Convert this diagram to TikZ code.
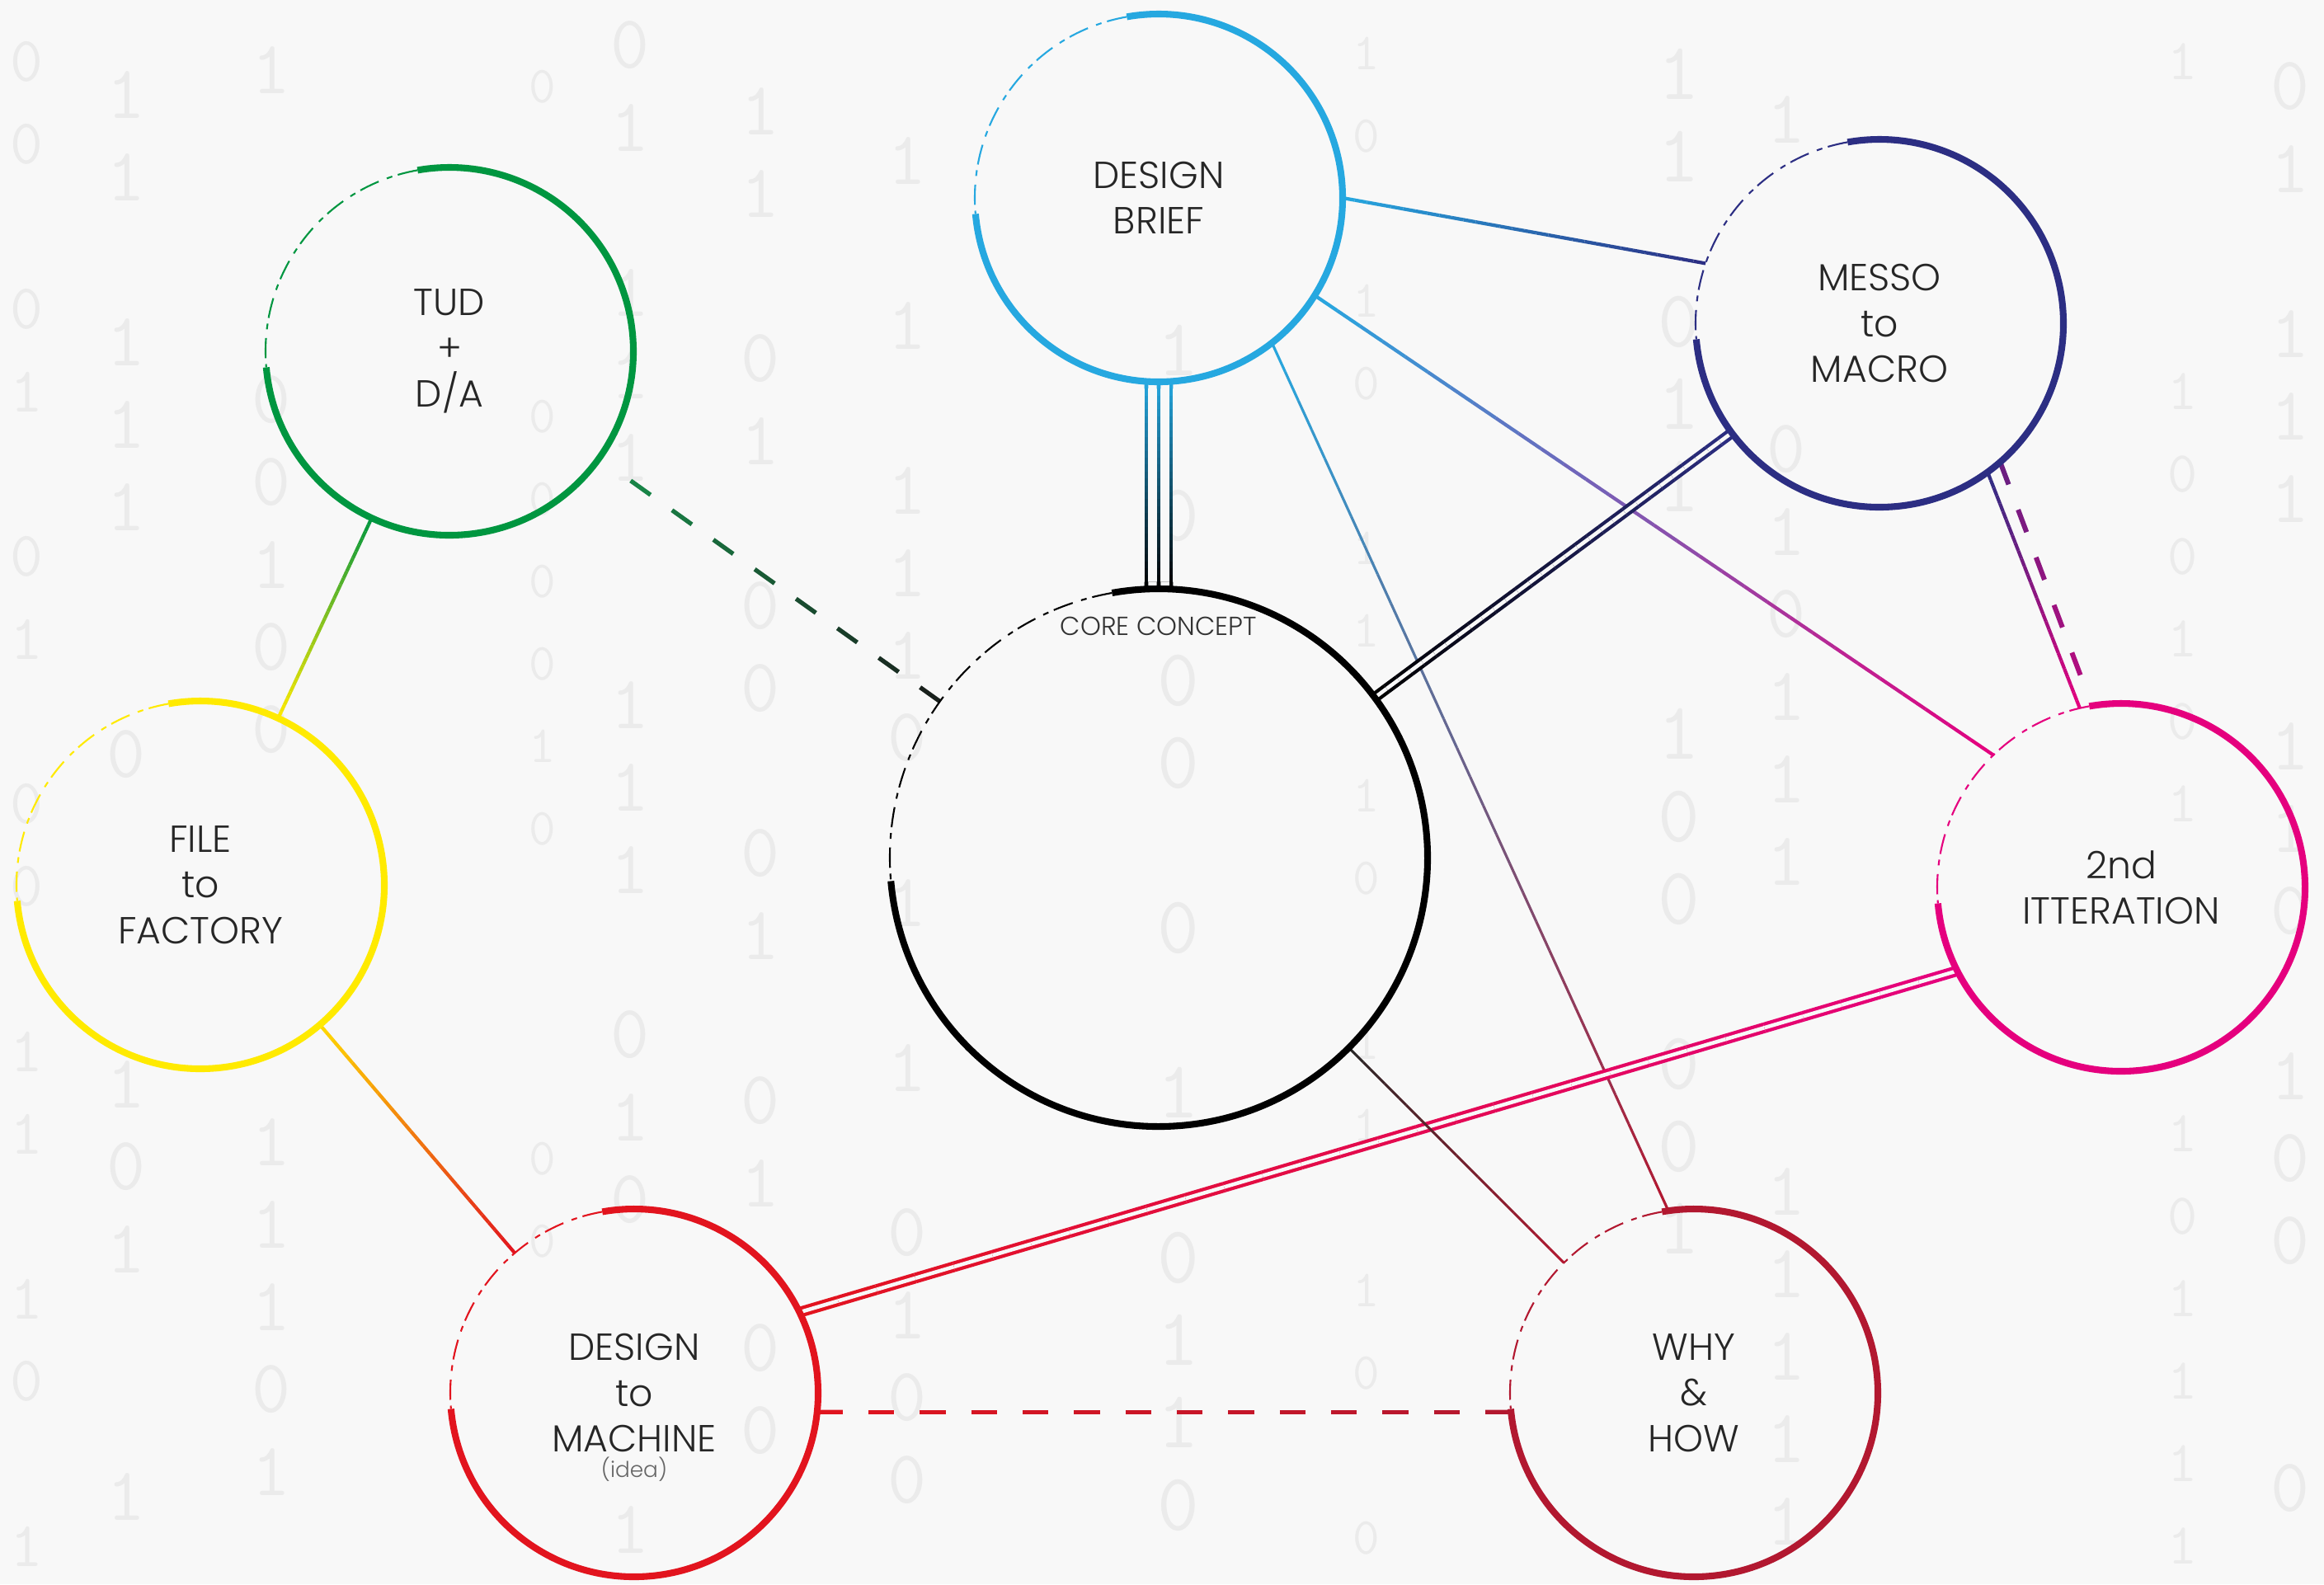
\documentclass[tikz,border=0pt]{standalone}
\usepackage{fontspec}
\IfFontExistsTF{Poppins Light}{\setmainfont{Poppins Light}}{\setmainfont{Poppins}}
\usetikzlibrary{positioning, calc}

\definecolor{tudgreen}{RGB}{0,150,64}
\definecolor{fileyellow}{RGB}{255,234,0}
\definecolor{briefcyan}{RGB}{38,168,224}
\definecolor{messonavy}{RGB}{44,46,131}
\definecolor{itermagenta}{RGB}{229,0,126}
\definecolor{machinered}{RGB}{226,20,30}
\definecolor{whyred}{RGB}{178,24,48}
\definecolor{paper}{RGB}{248,248,248}
\definecolor{binary}{RGB}{235,235,235}

\tikzset{
  hub/.style={circle, minimum size=4.46cm, inner sep=0pt, outer sep=0pt, align=center,
    text=black!85, font=\fontsize{13}{15.8}\selectfont}, % the coloured circles
  bighub/.style={hub, minimum size=6.52cm}, % the core concept circle
  ring/.style={line width=2.3pt}, % solid part of a circle
  ringfade/.style={line width=0.6pt, dash pattern=on 7pt off 2pt on 2pt off 3pt}, % worn part of a circle
  link/.style={line width=1.2pt},
  thinlink/.style={line width=0.9pt},
  twin/.style={line width=1.2pt, double=paper, double distance=1.3pt}, % double connector
  triplet/.style={line width=1.3pt, double=paper, double distance=0.255cm}, % outer pair of the triple connector
  dashlink/.style={line width=1.5pt},
  tinylabel/.style={font=\fontsize{9}{10}\selectfont, text=black!80, inner sep=0pt},
  bitdigit/.style={text=binary, inner sep=0pt},
}

% straight connector cut in pieces so that its colour runs from #4 to #5
% #6 = number of pieces, #7 = inked share of a piece (1 = solid line)
\newcommand{\fadelink}[7][link]{%
  \path (#2) -- (#3) coordinate[pos=0] (fl-a) coordinate[pos=1] (fl-b);
  \foreach \k in {1,...,#6}{%
    \pgfmathtruncatemacro{\share}{100-100*(\k-0.5)/#6}%
    \pgfmathsetmacro{\ta}{(\k-1)/(#6-1+#7)}%
    \pgfmathsetmacro{\tb}{(\k-1+#7)/(#6-1+#7)}%
    \draw[#1, draw=#4!\share!#5] ($(fl-a)!\ta!(fl-b)$) -- ($(fl-a)!\tb!(fl-b)$);
  }%
}

\begin{document}
\begin{tikzpicture}
  \useasboundingbox (0,0) rectangle (28.18,-19.21);
  \fill[paper] (0,0) rectangle (28.18,-19.21);

  % binary background, kept clear of the labels and of the page edge
  \foreach \x/\fs/\ph [count=\i] in {0.32/22/0.2, 1.53/26/0.6, 3.29/26/0.3, 5.09/28/0.1,
      6.58/18/0.5, 7.64/26/0.0, 9.22/26/0.8, 11.0/26/0.4, 14.29/28/0.7, 16.57/18/0.1,
      20.36/28/0.35, 21.66/26/0.9, 23.36/26/0.6, 26.47/20/0.2, 27.77/26/0.5}{
    \foreach \j in {0,...,18}{
      \pgfmathsetmacro{\y}{-0.55-\ph-\j}
      \pgfmathtruncatemacro{\bit}{mod(floor(abs(sin(\i*37+\j*53))*10),2)}
      \pgfmathtruncatemacro{\keep}{and(mod(7*\i+5*\j+\i*\j,9)>2, \y>-18.8)}
      \xdef\bitok{\keep}
      \foreach \hx/\hy/\hw/\hh in {5.45/-4.26/0.5/0.8, 14.05/-2.40/0.9/0.55, 22.79/-3.92/0.95/0.8,
          2.43/-10.73/1.1/0.8, 25.72/-10.76/1.3/0.55, 7.69/-17.0/1.1/1.0,
          20.54/-16.89/0.6/0.8, 14.05/-7.58/1.3/0.2}{
        \pgfmathtruncatemacro{\hit}{and(abs(\x-\hx)<\hw+0.35, abs(\y-\hy)<\hh+0.4)}
        \ifnum\hit=1 \gdef\bitok{0}\fi
      }
      \ifnum\bitok=1
        \node[bitdigit, font={\ttfamily\fontsize{\fs}{\fs}\selectfont}] (bit-\i-\j) at (\x,\y) {\bit};
      \fi
    }
  }

  \node[hub] (tud) at (5.45,-4.26) {TUD\\+\\D/A};
  \node[hub] (brief) at (14.05,-2.40) {DESIGN\\BRIEF};
  \node[hub] (messo) at (22.79,-3.92) {MESSO\\to\\MACRO};
  \node[bighub] (core) at (14.05,-10.40) {};
  \node[hub] (file) at (2.43,-10.73) {FILE\\to\\FACTORY};
  \node[hub] (iter) at (25.72,-10.76) {2nd\\ITTERATION};
  \node[hub] (machine) at (7.69,-16.89) {DESIGN\\to\\MACHINE};
  \node[hub] (why) at (20.54,-16.89) {WHY\\\&\\HOW};

  \node[tinylabel, below=0.33cm of core.north] (corelabel) {CORE CONCEPT};
  \node[tinylabel, font=\fontsize{7.5}{8}\selectfont, text=black!60, below=0.77cm of machine.center] (idea) {(idea)};

  \coordinate (tudgap) at ($(tud.center)!2.70cm!(core.center)$);
  \coordinate (itergap) at ($(iter.99)!0.40cm!(messo.-50)$);

  % connectors
  \fadelink{tud}{file}{tudgreen}{fileyellow}{30}{1}
  \fadelink{file}{machine}{fileyellow!85!orange}{machinered}{30}{1}
  \fadelink[dashlink]{tudgap}{core}{tudgreen!85!black}{black!90!white}{8}{0.48}
  \fadelink[triplet]{brief}{core}{briefcyan}{black}{30}{1}
  \fadelink[line width=1.3pt]{brief}{core}{briefcyan}{black}{30}{1}
  \fadelink{brief.0}{messo.161}{briefcyan}{messonavy}{30}{1}
  \fadelink{brief.-32}{iter.134}{briefcyan}{itermagenta}{30}{1}
  \fadelink[thinlink]{brief.-52}{why.98}{briefcyan}{whyred}{30}{1}
  \fadelink[twin]{messo}{core}{messonavy}{black}{30}{1}
  \fadelink{messo.-54}{iter.103}{messonavy}{itermagenta}{30}{1}
  \fadelink[dashlink, line width=1.7pt]{messo.-49}{itergap}{messonavy!60!itermagenta}{itermagenta!75!messonavy}{5}{0.47}
  \fadelink[twin]{iter.207}{machine.26}{itermagenta}{machinered}{30}{1}
  \fadelink[thinlink]{core}{why}{black!85!white}{whyred}{30}{1}
  \fadelink[dashlink]{machine.-6}{why.186}{machinered}{whyred}{14}{0.5}

  % circles, worn on the upper left
  \foreach \hub/\ink/\rad in {tud/tudgreen/2.23, brief/briefcyan/2.23, messo/messonavy/2.23,
      core/black/3.26, file/fileyellow/2.23, iter/itermagenta/2.23,
      machine/machinered/2.23, why/whyred/2.23}{
    \draw[ring, draw=\ink] (\hub.185) arc[start angle=185, end angle=460, radius=\rad];
    \draw[ringfade, draw=\ink] (\hub.100) arc[start angle=100, end angle=185, radius=\rad];
  }
\end{tikzpicture}
\end{document}
